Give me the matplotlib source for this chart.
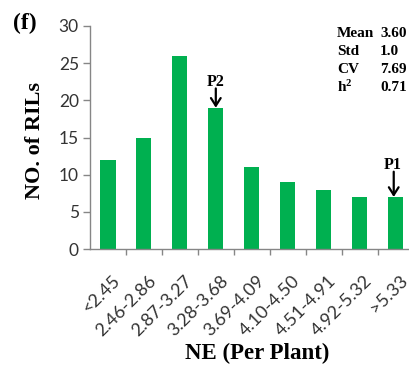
import matplotlib
matplotlib.use("Agg")
import matplotlib.pyplot as plt
from matplotlib.ticker import FixedLocator
from matplotlib.transforms import ScaledTranslation

plt.rcParams["mathtext.fontset"] = "custom"
plt.rcParams["mathtext.rm"] = "Liberation Serif:bold"
plt.rcParams["mathtext.it"] = "Liberation Serif:bold"
plt.rcParams["mathtext.bf"] = "Liberation Serif:bold"

categories = ["<2.45", "2.46-2.86", "2.87-3.27", "3.28-3.68", "3.69-4.09",
              "4.10-4.50", "4.51-4.91", "4.92-5.32", ">5.33"]
counts = [12, 15, 26, 19, 11, 9, 8, 7, 7]
yticks = [0, 5, 10, 15, 20, 25, 30]
stat_names = ["Mean", "Std", "CV", "h$^{2}$"]
stat_values = ["3.60", "1.0", "7.69", "0.71"]

W, H = 410, 367
fig = plt.figure(figsize=(W / 100, H / 100), dpi=100)
ax = fig.add_axes([90 / W, 1 - 249 / H, 323.5 / W, 223 / H])

xs = list(range(len(categories)))
ax.bar(xs, counts, width=0.42, color="#00B050", zorder=2)
ax.set_xlim(-0.5, len(categories) - 0.5)
ax.set_ylim(0, 30)

grey = "#868686"
for s in ["top", "right"]:
    ax.spines[s].set_visible(False)
for s in ["left", "bottom"]:
    ax.spines[s].set_color(grey)
    ax.spines[s].set_linewidth(1.0)

ax.set_yticks(yticks)
ax.set_yticklabels([str(v) for v in yticks])
ax.set_xticks(xs)
ax.set_xticklabels(categories, rotation=45, ha="right", rotation_mode="anchor")
ax.xaxis.set_minor_locator(FixedLocator([i + 0.5 for i in range(len(categories))]))
ax.tick_params(axis="x", which="major", length=0, pad=17)
ax.tick_params(axis="x", which="minor", length=4.5, color=grey, width=1)
ax.tick_params(axis="y", length=5, color=grey, width=1, pad=3)
for lab in ax.get_xticklabels() + ax.get_yticklabels():
    lab.set_fontfamily("Lato")
    lab.set_color("#333333")
for lab in ax.get_yticklabels():
    lab.set_fontsize(12.5)
shift = ScaledTranslation(4 / 100, 0, fig.dpi_scale_trans)
for lab in ax.get_xticklabels():
    lab.set_fontsize(13)
    lab.set_transform(lab.get_transform() + shift)

serif = "Liberation Serif"
fig.text(257 / W, 1 - 353 / H, "NE (Per Plant)", ha="center", va="center",
         fontfamily=serif, fontweight="bold", fontsize=16.5)
fig.text(35 / W, 1 - 140 / H, "NO. of RILs", ha="center", va="center", rotation=90,
         fontfamily=serif, fontweight="bold", fontsize=16)
fig.text(25 / W, 1 - 23 / H, "(f)", ha="center", va="center",
         fontfamily=serif, fontweight="bold", fontsize=17)

y0 = 32
for i, (n, v) in enumerate(zip(stat_names, stat_values)):
    yy = 1 - (y0 + 18 * i) / H
    fig.text(337 / W, yy, n, ha="left", va="center_baseline", fontfamily=serif,
             fontweight="bold", fontsize=11)
    fig.text(380 / W, yy, v, ha="left", va="center_baseline", fontfamily=serif,
             fontweight="bold", fontsize=11)

arrow = dict(arrowstyle="->, head_width=0.35, head_length=0.55", lw=1.6,
             color="black", shrinkA=0, shrinkB=0)
ax.annotate("", xy=(3, counts[3]), xytext=(3, 21.6), arrowprops=arrow)
ax.text(3, 22.4, "P2", ha="center", va="center", fontfamily=serif,
        fontweight="bold", fontsize=11.5)
ax.annotate("", xy=(7.95, counts[8]), xytext=(7.95, 10.4), arrowprops=arrow)
ax.text(7.92, 11.3, "P1", ha="center", va="center", fontfamily=serif,
        fontweight="bold", fontsize=11.5)

fig.savefig("out.png", dpi=100)
